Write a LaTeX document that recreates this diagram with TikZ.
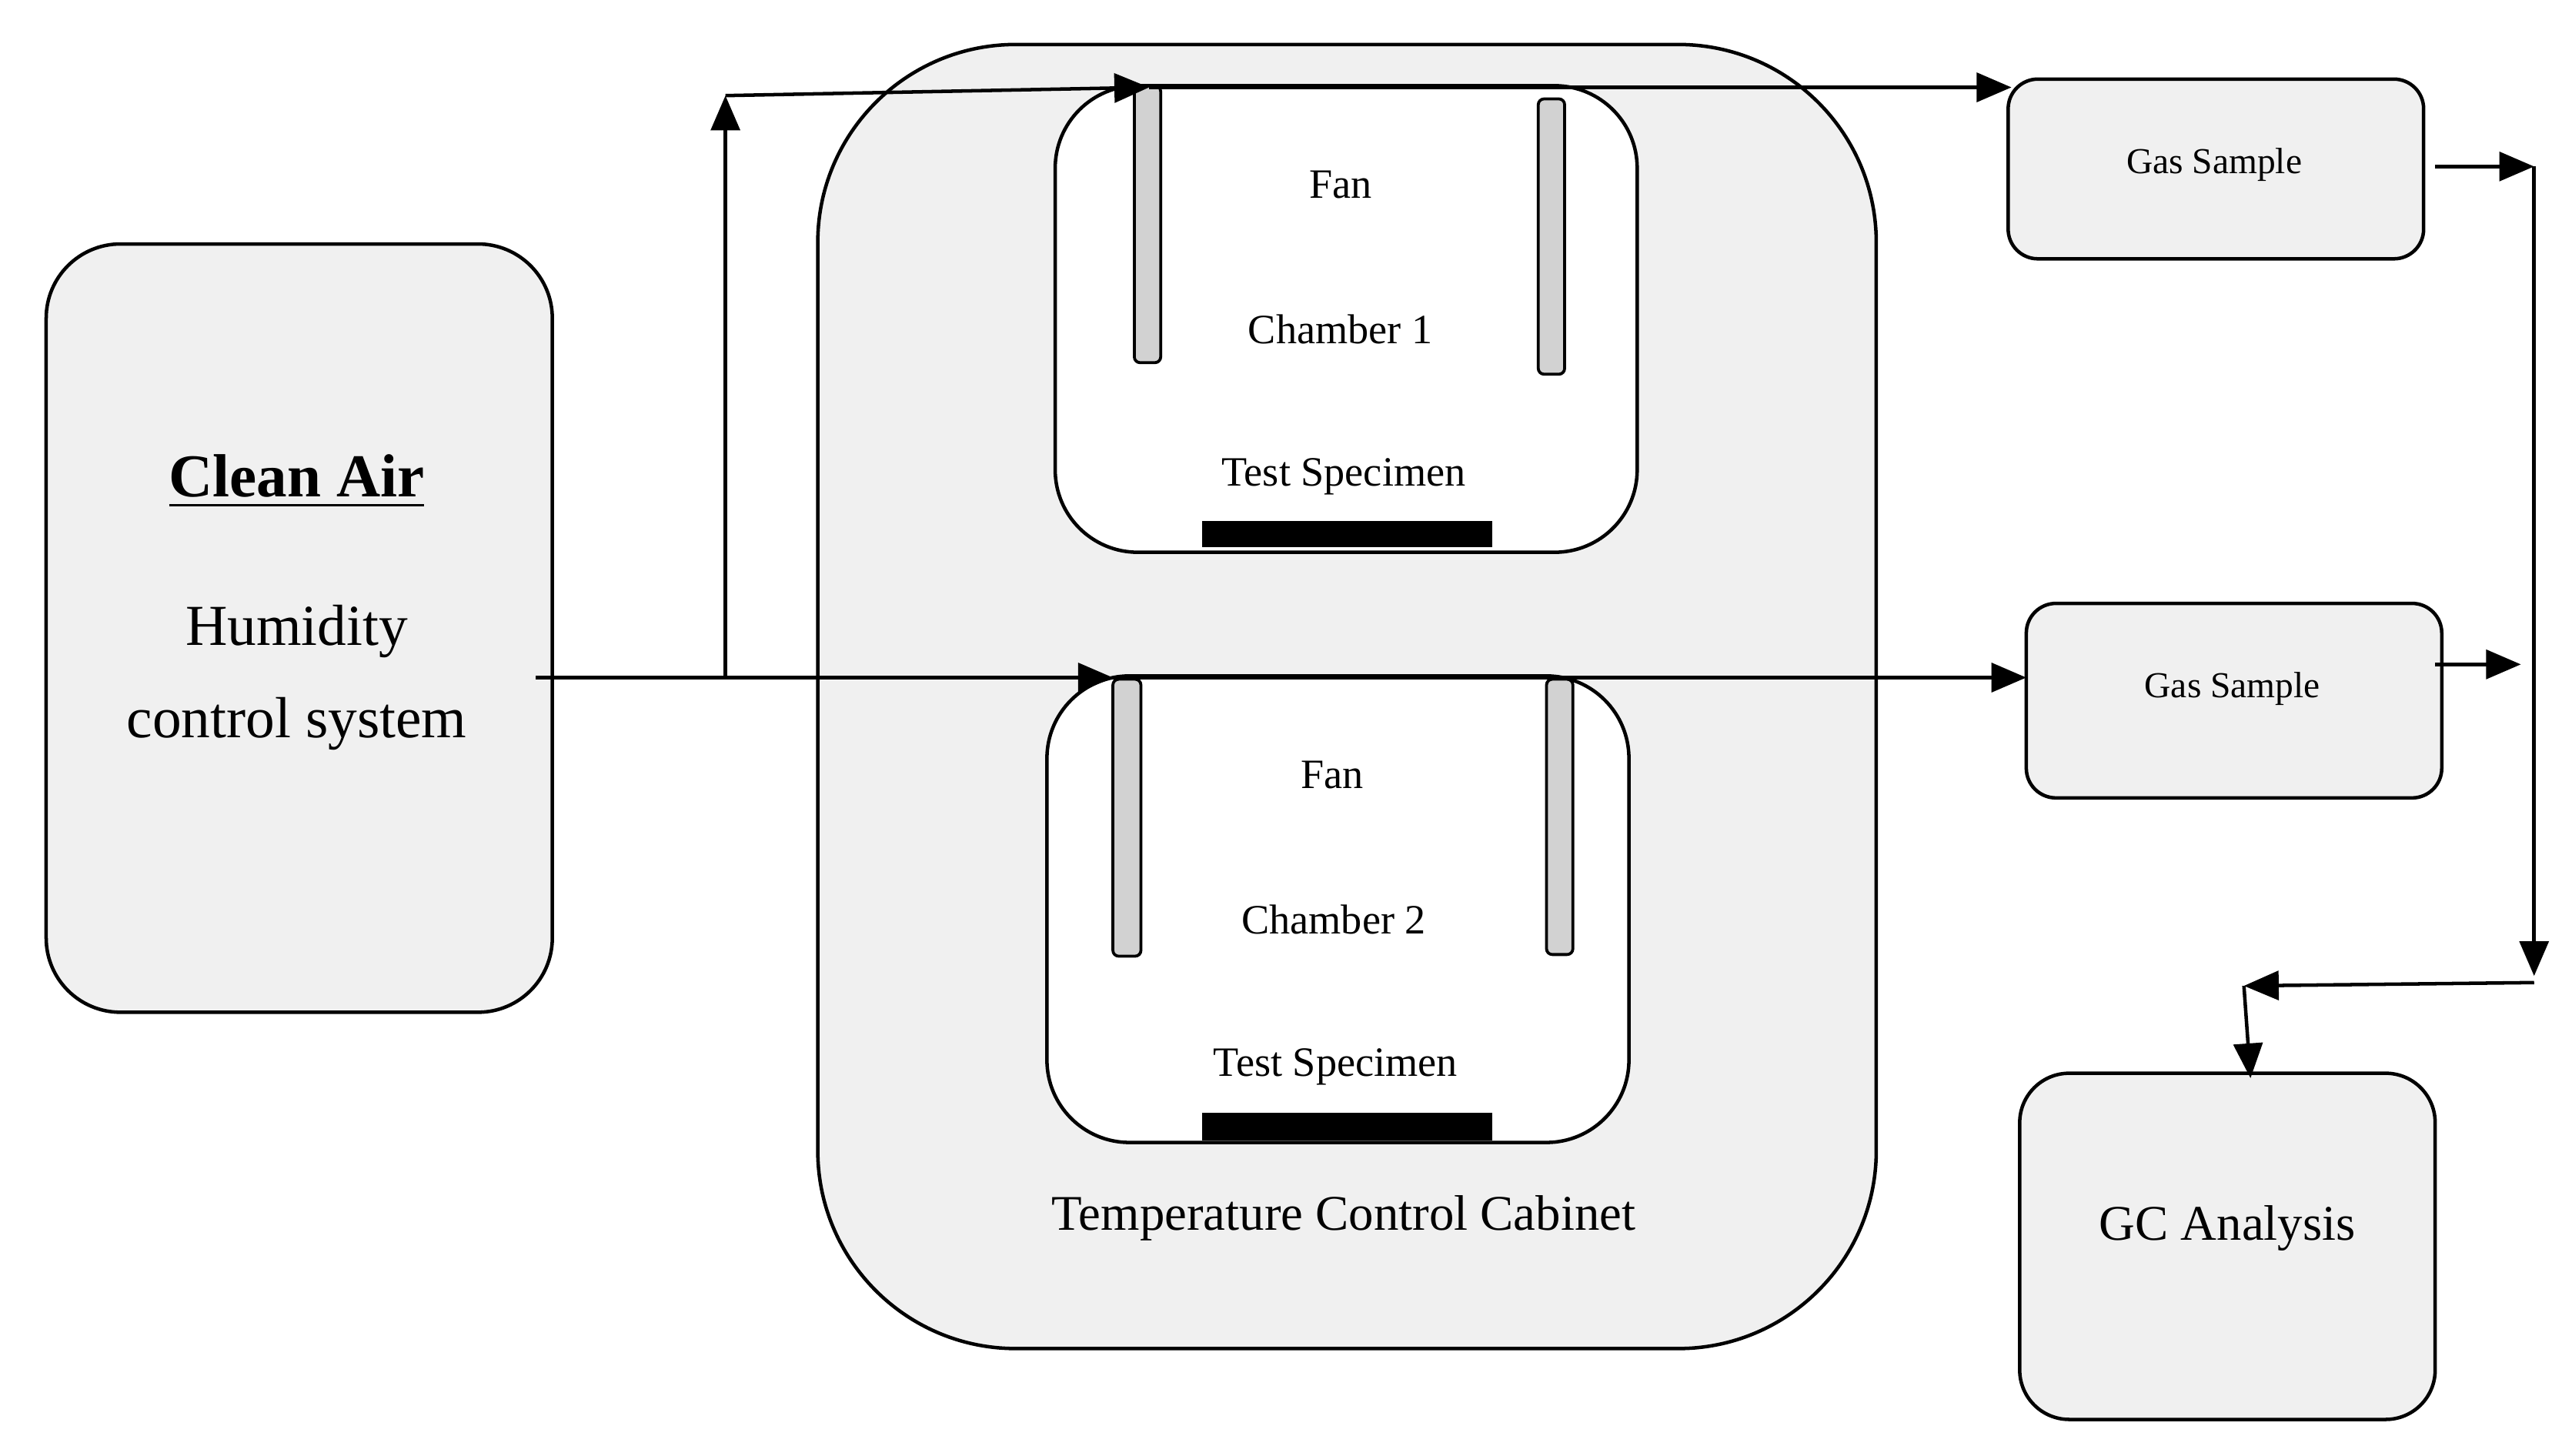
\documentclass[tikz,border=0pt]{standalone}
\usepackage{fontspec}
\setmainfont{Liberation Serif}
\usetikzlibrary{arrows.meta}
\begin{document}
\begin{tikzpicture}[x=0.01cm,y=-0.01cm,
 box/.style={draw,fill=gray!12,line width=0.6pt},
 ch/.style={draw,fill=white,line width=0.6pt},
 bar/.style={draw,fill=gray!35,rounded corners=1pt,line width=0.5pt},
 ln/.style={line width=0.6pt},
 arr/.style={ln,-{Triangle[length=6pt,width=5pt]}}]
\useasboundingbox (0,0) rectangle (1560,883);
\draw[box,rounded corners=0.45cm] (28,148) rectangle (335,614);
\node[font=\fontsize{10.5}{12}\selectfont\bfseries] (ca) at (180,292) {\underline{Clean Air}};
\node[font=\fontsize{10}{12}\selectfont,align=center] (hcs) at (180,411) {Humidity\\[4pt]control system};
\draw[box,rounded corners=1.2cm] (496,27) rectangle (1138,818);
\draw[ch,rounded corners=0.5cm] (640,52) rectangle (993,335);
\draw[ch,rounded corners=0.5cm] (635,410) rectangle (988,693);
\draw[bar] (688,52) rectangle (704,220);
\draw[bar] (933,60) rectangle (949,227);
\draw[bar] (675,412) rectangle (692,580);
\draw[bar] (938,412) rectangle (954,579);
\fill (729,316) rectangle (905,332);
\fill (729,675) rectangle (905,692);
\tikzset{t7/.style={font=\fontsize{7.2}{9}\selectfont}}
\node[t7] (f1) at (813,112) {Fan};
\node[t7] (c1) at (813,200) {Chamber 1};
\node[t7] (s1) at (815,289) {Test Specimen};
\node[t7] (f2) at (808,470) {Fan};
\node[t7] (c2) at (809,558) {Chamber 2};
\node[t7] (s2) at (810,647) {Test Specimen};
\node[font=\fontsize{8.6}{10}\selectfont] (tcc) at (815,739) {Temperature Control Cabinet};
\draw[box,rounded corners=0.18cm] (1218,48) rectangle (1470,157);
\node[font=\fontsize{6.3}{8}\selectfont] (g1) at (1343,100) {Gas Sample};
\draw[box,rounded corners=0.18cm] (1229,366) rectangle (1481,484);
\node[font=\fontsize{6.3}{8}\selectfont] (g2) at (1354,418) {Gas Sample};
\draw[box,rounded corners=0.3cm] (1225,651) rectangle (1477,861);
\node[font=\fontsize{8.6}{10}\selectfont] (gc) at (1351,745) {GC Analysis};
% connectors
\coordinate (a0) at (325,411);
\coordinate (br) at (440,411);
\coordinate (m2) at (675,411);
\coordinate (e2) at (1229,411);
\coordinate (up) at (440,58);
\coordinate (m1) at (697,53);
\coordinate (e1) at (1220,53);
\draw[arr] (a0) -- (m2);
\draw[arr] (m2) -- (e2);
\draw[arr] (br) -- (up);
\draw[arr] (up) -- (m1);
\draw[arr] (m1) -- (e1);
\coordinate (o1) at (1477,101);
\coordinate (r1) at (1537,101);
\coordinate (o2) at (1477,403);
\coordinate (r2) at (1529,403);
\coordinate (dn) at (1537,592);
\coordinate (tp) at (1537,596);
\coordinate (lf) at (1361,598);
\coordinate (gt) at (1365,654);
\draw[arr] (o1) -- (r1);
\draw[arr] (o2) -- (r2);
\draw[arr] (r1) -- (dn);
\draw[arr] (tp) -- (lf);
\draw[arr] (lf) -- (gt);
\end{tikzpicture}
\end{document}
